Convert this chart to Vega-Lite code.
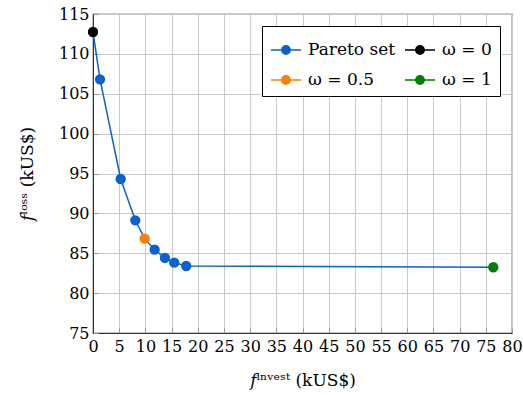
{
  "$schema": "https://vega.github.io/schema/vega-lite/v6.json",
  "width": 419,
  "height": 319,
  "autosize": {"type": "none"},
  "padding": {"left": 93, "top": 14, "right": 11, "bottom": 62},
  "background": "white",
  "config": {
    "font": "DejaVu Serif",
    "view": {"stroke": "#333333", "strokeWidth": 1.2},
    "axis": {
      "labelFont": "DejaVu Serif",
      "titleFont": "DejaVu Serif",
      "labelFontSize": 16,
      "titleFontSize": 17,
      "labelColor": "#000000",
      "titleColor": "#000000",
      "titleFontWeight": "normal",
      "gridColor": "#c8c8c8",
      "gridWidth": 1,
      "domainColor": "#333333",
      "tickColor": "#999999",
      "tickSize": -5,
      "labelOverlap": false,
      "labelFlush": false
    },
    "legend": {
      "labelFont": "DejaVu Serif",
      "labelFontSize": 17,
      "labelColor": "#000000"
    }
  },
  "data": {
    "values": [
      {"x": 0.0, "y": 112.74, "series": "ω = 0"},
      {"x": 1.34, "y": 106.81, "series": "Pareto set"},
      {"x": 5.28, "y": 94.31, "series": "Pareto set"},
      {"x": 8.08, "y": 89.13, "series": "Pareto set"},
      {"x": 9.86, "y": 86.83, "series": "ω = 0.5"},
      {"x": 11.77, "y": 85.45, "series": "Pareto set"},
      {"x": 13.74, "y": 84.41, "series": "Pareto set"},
      {"x": 15.52, "y": 83.82, "series": "Pareto set"},
      {"x": 17.8, "y": 83.4, "series": "Pareto set"},
      {"x": 76.43, "y": 83.24, "series": "ω = 1"}
    ]
  },
  "encoding": {
    "x": {
      "field": "x",
      "type": "quantitative",
      "scale": {"domain": [0, 80], "nice": false, "zero": false},
      "axis": {"values": [0,5,10,15,20,25,30,35,40,45,50,55,60,65,70,75,80], "title": "𝑓ⁱⁿᵛᵉˢᵗ (kUS$)", "titlePadding": 18, "labelPadding": 10}
    },
    "y": {
      "field": "y",
      "type": "quantitative",
      "scale": {"domain": [75, 115], "nice": false, "zero": false},
      "axis": {"values": [75,80,85,90,95,100,105,110,115], "title": "𝑓ˡᵒˢˢ (kUS$)", "titlePadding": 22, "labelPadding": 9}
    }
  },
  "layer": [
    {
      "mark": {"type": "line", "color": "#0a62d0", "strokeWidth": 1.5},
      "encoding": {"order": {"field": "x", "type": "quantitative"}}
    },
    {
      "mark": {"type": "point", "filled": true, "opacity": 1, "size": 70},
      "encoding": {
        "color": {
          "field": "series",
          "type": "nominal",
          "scale": {
            "domain": ["Pareto set", "ω = 0.5", "ω = 0", "ω = 1"],
            "range": ["#0a62d0", "#ff8000", "#000000", "#008000"]
          },
          "legend": {
            "title": null,
            "orient": "top-right",
            "offset": 12,
            "columns": 2,
            "columnPadding": 6,
            "rowPadding": 6,
            "padding": 8,
            "strokeColor": "#000000",
            "fillColor": "#ffffff",
            "symbolType": "M-1,0H1M-0.28,0A0.28,0.28 0 1,1 0.28,0A0.28,0.28 0 1,1 -0.28,0Z",
            "symbolSize": 900,
            "symbolStrokeWidth": 1.5,
            "labelOffset": 6
          }
        },
        "stroke": {
          "field": "series",
          "type": "nominal",
          "legend": null,
          "scale": {
            "domain": ["Pareto set", "ω = 0.5", "ω = 0", "ω = 1"],
            "range": ["#0a62d0", "#ff8000", "#000000", "#008000"]
          }
        }
      }
    }
  ]
}
